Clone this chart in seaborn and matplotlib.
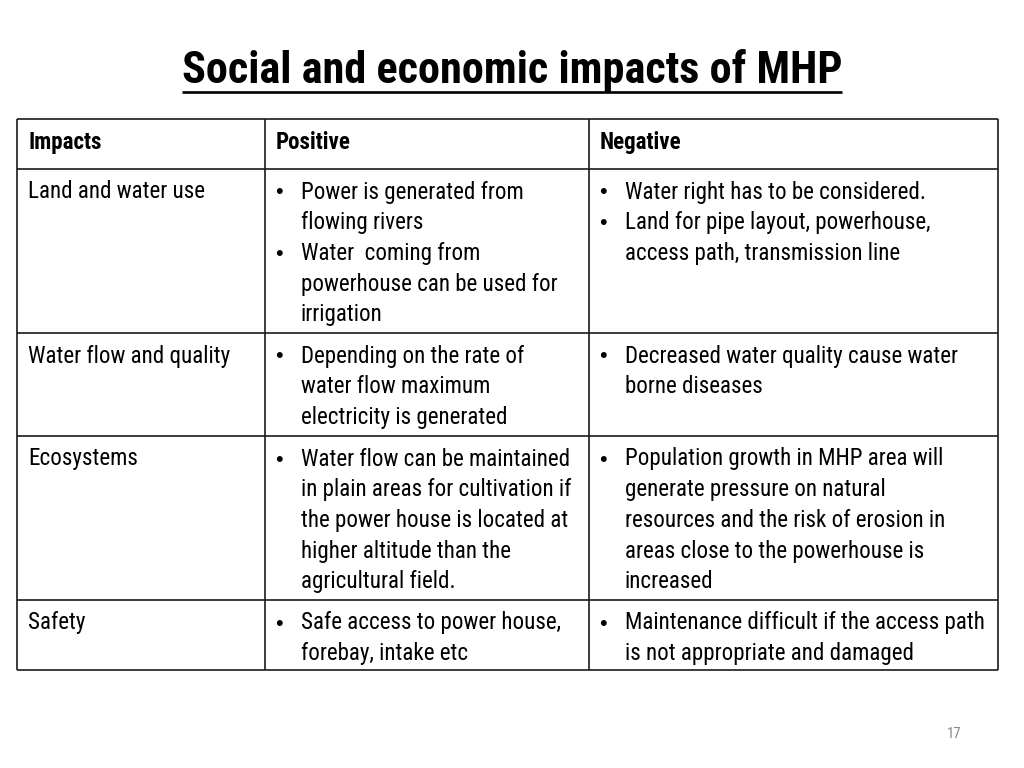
import matplotlib
matplotlib.use("Agg")
import matplotlib.pyplot as plt
from matplotlib import font_manager
import seaborn as sns

sns.set_theme(style="white")

title = "Social and economic impacts of MHP"
headers = ["Impacts", "Positive", "Negative"]
impacts = ["Land and water use", "Water flow and quality", "Ecosystems", "Safety"]
positive = [
    [["Power is generated from", "flowing rivers"],
     ["Water  coming from", "powerhouse can be used for", "irrigation"]],
    [["Depending on the rate of", "water flow maximum", "electricity is generated"]],
    [["Water flow can be maintained", "in plain areas for cultivation if",
      "the power house is located at", "higher altitude than the", "agricultural field."]],
    [["Safe access to power house,", "forebay, intake etc"]],
]
negative = [
    [["Water right has to be considered."],
     ["Land for pipe layout, powerhouse,", "access path, transmission line"]],
    [["Decreased water quality cause water", "borne diseases"]],
    [["Population growth in MHP area will", "generate pressure on natural",
      "resources and the risk of erosion in", "areas close to the powerhouse is", "increased"]],
    [["Maintenance difficult if the access path", "is not appropriate and damaged"]],
]
page_number = "17"

# pick a condensed font if one is installed
names = {f.name for f in font_manager.fontManager.ttflist}
fam = None
stretch = "normal"
for cand in ["Liberation Sans Narrow", "Arial Narrow", "Roboto Condensed",
             "Open Sans Condensed", "DejaVu Sans Condensed"]:
    if cand in names:
        fam = cand
        break
if fam is None:
    for f in font_manager.fontManager.ttflist:
        if f.name in ("DejaVu Sans", "Open Sans", "Roboto", "Noto Sans") and \
                ("Condensed" in f.fname or f.stretch in ("condensed", "semi-condensed")):
            fam = f.name
            stretch = f.stretch
            break
if fam is None:
    fam = "Liberation Sans"
plt.rcParams['font.family'] = [fam, 'Liberation Sans', 'DejaVu Sans']
plt.rcParams['font.stretch'] = stretch

W, H = 1024, 768
fig = plt.figure(figsize=(W / 100, H / 100), dpi=100)
ax = fig.add_axes([0, 0, 1, 1])
ax.set_xlim(0, W)
ax.set_ylim(H, 0)
ax.axis("off")
renderer = fig.canvas.get_renderer()

def fit_size(txt, target_w, base, weight="normal", maxfs=None):
    t = ax.text(0, 0, txt, fontsize=base, fontweight=weight)
    w = t.get_window_extent(renderer).width
    t.remove()
    s = base * target_w / w
    if maxfs is not None:
        s = min(s, maxfs)
    return s

fs = fit_size("Maintenance difficult if the access path", 360, 18, maxfs=19)
fs_title = fit_size(title, 660, 28, weight="bold", maxfs=34)

# table geometry (pixels)
x_edges = [17, 265, 589, 998]
y_edges = [119, 169, 333, 436, 600, 670]
line_h = 30.7

lc = "#1a1a1a"
ax.hlines(y_edges, x_edges[0], x_edges[-1], color=lc, lw=1.2)
ax.vlines(x_edges, y_edges[0], y_edges[-1], color=lc, lw=1.2)

# title
t = ax.text(512, 83, title, ha="center", va="baseline", fontsize=fs_title,
            fontweight="bold", color="black")
fig.canvas.draw()
bb = t.get_window_extent()
ax.hlines(91.5, bb.x0, bb.x1, color="black", lw=1.9)

# header
for i, h in enumerate(headers):
    ax.text(x_edges[i] + 11, 149, h, ha="left", va="baseline", fontsize=fs,
            fontweight="bold", color="black")

def bullets(col, items, y0):
    y = y0
    for item in items:
        for j, ln in enumerate(item):
            if j == 0:
                ax.text(x_edges[col] + 10, y, "\u2022", ha="left", va="baseline",
                        fontsize=fs * 0.95, color="black",
                        family=["Liberation Sans", "DejaVu Sans"])
            ax.text(x_edges[col] + 36, y, ln, ha="left", va="baseline",
                    fontsize=fs, color="black")
            y += line_h

for r in range(len(impacts)):
    y0 = y_edges[r + 1] + 29.5
    ax.text(x_edges[0] + 11, y0, impacts[r], ha="left", va="baseline",
            fontsize=fs, color="black")
    bullets(1, positive[r], y0)
    bullets(2, negative[r], y0)

ax.text(954, 734, page_number, ha="center", va="center", fontsize=10.5, color="#888888")

fig.savefig("out.png", dpi=100)
